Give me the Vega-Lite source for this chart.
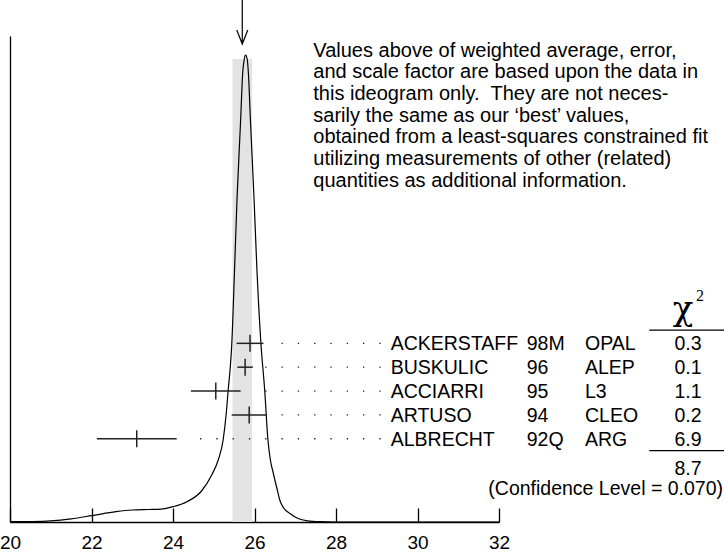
{
  "$schema": "https://vega.github.io/schema/vega-lite/v6.json",
  "width": 489,
  "height": 486,
  "autosize": {"type": "none"},
  "padding": {"left": 10, "top": 36, "right": 225, "bottom": 34},
  "background": "white",
  "config": {"view": {"stroke": null}, "font": "Liberation Sans", "axis": {"grid": false}},
  "datasets": {
    "curve": [
      {"x": 20.0, "h": 0.3}, {"x": 20.5, "h": 0.5}, {"x": 21.0, "h": 1.2}, {"x": 21.5, "h": 3.2},
      {"x": 22.0, "h": 6.3}, {"x": 22.6, "h": 10.3}, {"x": 23.0, "h": 12.0}, {"x": 23.4, "h": 12.5},
      {"x": 23.7, "h": 12.9}, {"x": 24.0, "h": 15.3}, {"x": 24.33, "h": 20.0}, {"x": 24.7, "h": 31},
      {"x": 24.95, "h": 47}, {"x": 25.11, "h": 62}, {"x": 25.23, "h": 82}, {"x": 25.31, "h": 110},
      {"x": 25.35, "h": 130}, {"x": 25.4, "h": 152}, {"x": 25.44, "h": 176}, {"x": 25.51, "h": 252},
      {"x": 25.57, "h": 322}, {"x": 25.66, "h": 402}, {"x": 25.71, "h": 449}, {"x": 25.75, "h": 463},
      {"x": 25.78, "h": 467}, {"x": 25.82, "h": 463}, {"x": 25.85, "h": 449}, {"x": 25.9, "h": 402},
      {"x": 25.99, "h": 322}, {"x": 26.06, "h": 252}, {"x": 26.16, "h": 177}, {"x": 26.25, "h": 132},
      {"x": 26.33, "h": 82}, {"x": 26.39, "h": 62}, {"x": 26.46, "h": 49}, {"x": 26.56, "h": 32},
      {"x": 26.62, "h": 22}, {"x": 26.7, "h": 15}, {"x": 26.87, "h": 8.5}, {"x": 27.07, "h": 3.5},
      {"x": 27.3, "h": 1.2}, {"x": 27.6, "h": 0.3}, {"x": 28.0, "h": 0}, {"x": 32.0, "h": 0}
    ],
    "band": [{"x": 25.46, "top": 463}, {"x": 25.94, "top": 463}],
    "meas": [
      {"order": 5, "author": "ACKERSTAFF", "year": "98M", "expt": "OPAL", "value": 25.89, "lo": 25.56, "hi": 26.22, "chi2": "0.3"},
      {"order": 4, "author": "BUSKULIC", "year": "96", "expt": "ALEP", "value": 25.77, "lo": 25.58, "hi": 25.96, "chi2": "0.1"},
      {"order": 3, "author": "ACCIARRI", "year": "95", "expt": "L3", "value": 25.05, "lo": 24.44, "hi": 25.66, "chi2": "1.1"},
      {"order": 2, "author": "ARTUSO", "year": "94", "expt": "CLEO", "value": 25.87, "lo": 25.44, "hi": 26.3, "chi2": "0.2"},
      {"order": 1, "author": "ALBRECHT", "year": "92Q", "expt": "ARG", "value": 23.11, "lo": 22.13, "hi": 24.09, "chi2": "6.9"}
    ]
  },
  "resolve": {"scale": {"y": "independent"}, "axis": {"y": "independent"}},
  "layer": [
    {
      "layer": [
        {
          "data": {"name": "band"},
          "mark": {"type": "area", "color": "#e3e3e3", "opacity": 1},
          "encoding": {
            "x": {"field": "x", "type": "quantitative", "scale": {"domain": [20, 32], "nice": false, "zero": false}},
            "y": {"field": "top", "type": "quantitative", "scale": {"domain": [0, 486], "nice": false, "zero": false}}
          }
        },
        {
          "data": {"name": "curve"},
          "mark": {"type": "line", "interpolate": "monotone", "color": "black", "strokeWidth": 1.2},
          "encoding": {
            "x": {
              "field": "x", "type": "quantitative",
              "scale": {"domain": [20, 32], "nice": false, "zero": false},
              "axis": {
                "title": null, "values": [20, 22, 24, 26, 28, 30, 32], "format": "d",
                "tickSize": -14, "tickColor": "black", "tickWidth": 1.3,
                "domainColor": "black", "domainWidth": 1.3,
                "labelFontSize": 19, "labelColor": "black", "labelFont": "Liberation Sans",
                "labelPadding": 25, "labelFlush": false, "labelOverlap": false, "grid": false
              }
            },
            "y": {
              "field": "h", "type": "quantitative",
              "scale": {"domain": [0, 486], "nice": false, "zero": false},
              "axis": {"title": null, "ticks": false, "labels": false, "domain": true, "domainColor": "black", "domainWidth": 1.3, "grid": false}
            }
          }
        },
        {
          "data": {"values": [{"avg": 25.7}]},
          "mark": {"type": "point", "shape": "M0,-1L0,1M-0.25,0.364L0,1L0.25,0.364", "size": 1936, "filled": false, "stroke": "black", "strokeWidth": 1.2, "opacity": 1},
          "encoding": {
            "x": {"field": "avg", "type": "quantitative"},
            "y": {"datum": 500, "type": "quantitative"}
          }
        },
        {
          "data": {"values": [{"t": "Values above of weighted average, error,\nand scale factor are based upon the data in\nthis ideogram only.\u00a0 They are not neces-\nsarily the same as our \u2018best\u2019 values,\nobtained from a least-squares constrained fit\nutilizing measurements of other (related)\nquantities as additional information."}]},
          "mark": {"type": "text", "align": "left", "baseline": "alphabetic", "lineBreak": "\n", "lineHeight": 21.7, "fontSize": 20, "font": "Liberation Sans", "color": "black"},
          "encoding": {
            "x": {"datum": 27.443, "type": "quantitative"},
            "y": {"datum": 465.3, "type": "quantitative"},
            "text": {"field": "t", "type": "nominal"}
          }
        }
      ]
    },
    {
      "layer": [
        {
          "data": {"name": "meas"},
          "mark": {"type": "rule", "color": "#222", "strokeWidth": 1.5},
          "encoding": {
            "x": {"field": "lo", "type": "quantitative"},
            "x2": {"field": "hi"},
            "y": {"field": "order", "type": "quantitative", "scale": {"domain": [-2.49, 17.885], "nice": false, "zero": false}, "axis": null}
          }
        },
        {
          "data": {"name": "meas"},
          "mark": {"type": "tick", "orient": "vertical", "size": 17, "thickness": 1.5, "color": "#222", "opacity": 1},
          "encoding": {
            "x": {"field": "value", "type": "quantitative"},
            "y": {"field": "order", "type": "quantitative"}
          }
        },
        {
          "data": {"name": "meas"},
          "mark": {"type": "rule", "color": "#222", "strokeWidth": 1.3, "strokeDash": [1.3, 15.0], "xOffset": 10,
                   "strokeDashOffset": {"expr": "((scale('x', datum.hi) + 10 - 190) % 16.3 + 16.3) % 16.3"}},
          "encoding": {
            "x": {"field": "hi", "type": "quantitative"},
            "x2": {"datum": 29.1},
            "y": {"field": "order", "type": "quantitative"}
          }
        },
        {
          "data": {"name": "meas"},
          "mark": {"type": "text", "align": "left", "baseline": "alphabetic", "dy": 7, "fontSize": 19.5, "font": "Liberation Sans", "color": "black"},
          "encoding": {"x": {"datum": 29.342, "type": "quantitative"}, "y": {"field": "order", "type": "quantitative"}, "text": {"field": "author", "type": "nominal"}}
        },
        {
          "data": {"name": "meas"},
          "mark": {"type": "text", "align": "left", "baseline": "alphabetic", "dy": 7, "fontSize": 19.5, "font": "Liberation Sans", "color": "black"},
          "encoding": {"x": {"datum": 32.68, "type": "quantitative"}, "y": {"field": "order", "type": "quantitative"}, "text": {"field": "year", "type": "nominal"}}
        },
        {
          "data": {"name": "meas"},
          "mark": {"type": "text", "align": "left", "baseline": "alphabetic", "dy": 7, "fontSize": 19.5, "font": "Liberation Sans", "color": "black"},
          "encoding": {"x": {"datum": 34.11, "type": "quantitative"}, "y": {"field": "order", "type": "quantitative"}, "text": {"field": "expt", "type": "nominal"}}
        },
        {
          "data": {"name": "meas"},
          "mark": {"type": "text", "align": "right", "baseline": "alphabetic", "dy": 7, "fontSize": 19.5, "font": "Liberation Sans", "color": "black"},
          "encoding": {"x": {"datum": 36.969, "type": "quantitative"}, "y": {"field": "order", "type": "quantitative"}, "text": {"field": "chi2", "type": "nominal"}}
        },
        {
          "data": {"values": [{"t": "\u03c7"}]},
          "mark": {"type": "text", "align": "center", "baseline": "alphabetic", "dy": 1, "fontSize": 34, "font": "DejaVu Serif", "color": "black"},
          "encoding": {"x": {"datum": 36.515, "type": "quantitative"}, "y": {"datum": 6, "type": "quantitative"}, "text": {"field": "t", "type": "nominal"}}
        },
        {
          "data": {"values": [{"t": "2"}]},
          "mark": {"type": "text", "align": "center", "baseline": "alphabetic", "dy": -18.5, "fontSize": 16, "font": "Liberation Serif", "color": "black"},
          "encoding": {"x": {"datum": 36.933, "type": "quantitative"}, "y": {"datum": 6, "type": "quantitative"}, "text": {"field": "t", "type": "nominal"}}
        },
        {
          "data": {"values": [{"line": "header"}]},
          "mark": {"type": "tick", "orient": "horizontal", "size": 76, "thickness": 1.2, "color": "black", "opacity": 1},
          "encoding": {"x": {"datum": 36.62, "type": "quantitative"}, "y": {"datum": 5.55, "type": "quantitative"}}
        },
        {
          "data": {"values": [{"line": "total"}]},
          "mark": {"type": "tick", "orient": "horizontal", "size": 76, "thickness": 1.2, "color": "black", "opacity": 1},
          "encoding": {"x": {"datum": 36.62, "type": "quantitative"}, "y": {"datum": 0.5, "type": "quantitative"}}
        },
        {
          "data": {"values": [{"t": "8.7"}]},
          "mark": {"type": "text", "align": "right", "baseline": "alphabetic", "dy": 7, "fontSize": 19.5, "font": "Liberation Sans", "color": "black"},
          "encoding": {"x": {"datum": 36.969, "type": "quantitative"}, "y": {"datum": -0.22, "type": "quantitative"}, "text": {"field": "t", "type": "nominal"}}
        },
        {
          "data": {"values": [{"t": "(Confidence Level = 0.070)"}]},
          "mark": {"type": "text", "align": "right", "baseline": "alphabetic", "dy": 7, "fontSize": 19.5, "font": "Liberation Sans", "color": "black"},
          "encoding": {"x": {"datum": 37.497, "type": "quantitative"}, "y": {"datum": -1.05, "type": "quantitative"}, "text": {"field": "t", "type": "nominal"}}
        }
      ]
    }
  ]
}
